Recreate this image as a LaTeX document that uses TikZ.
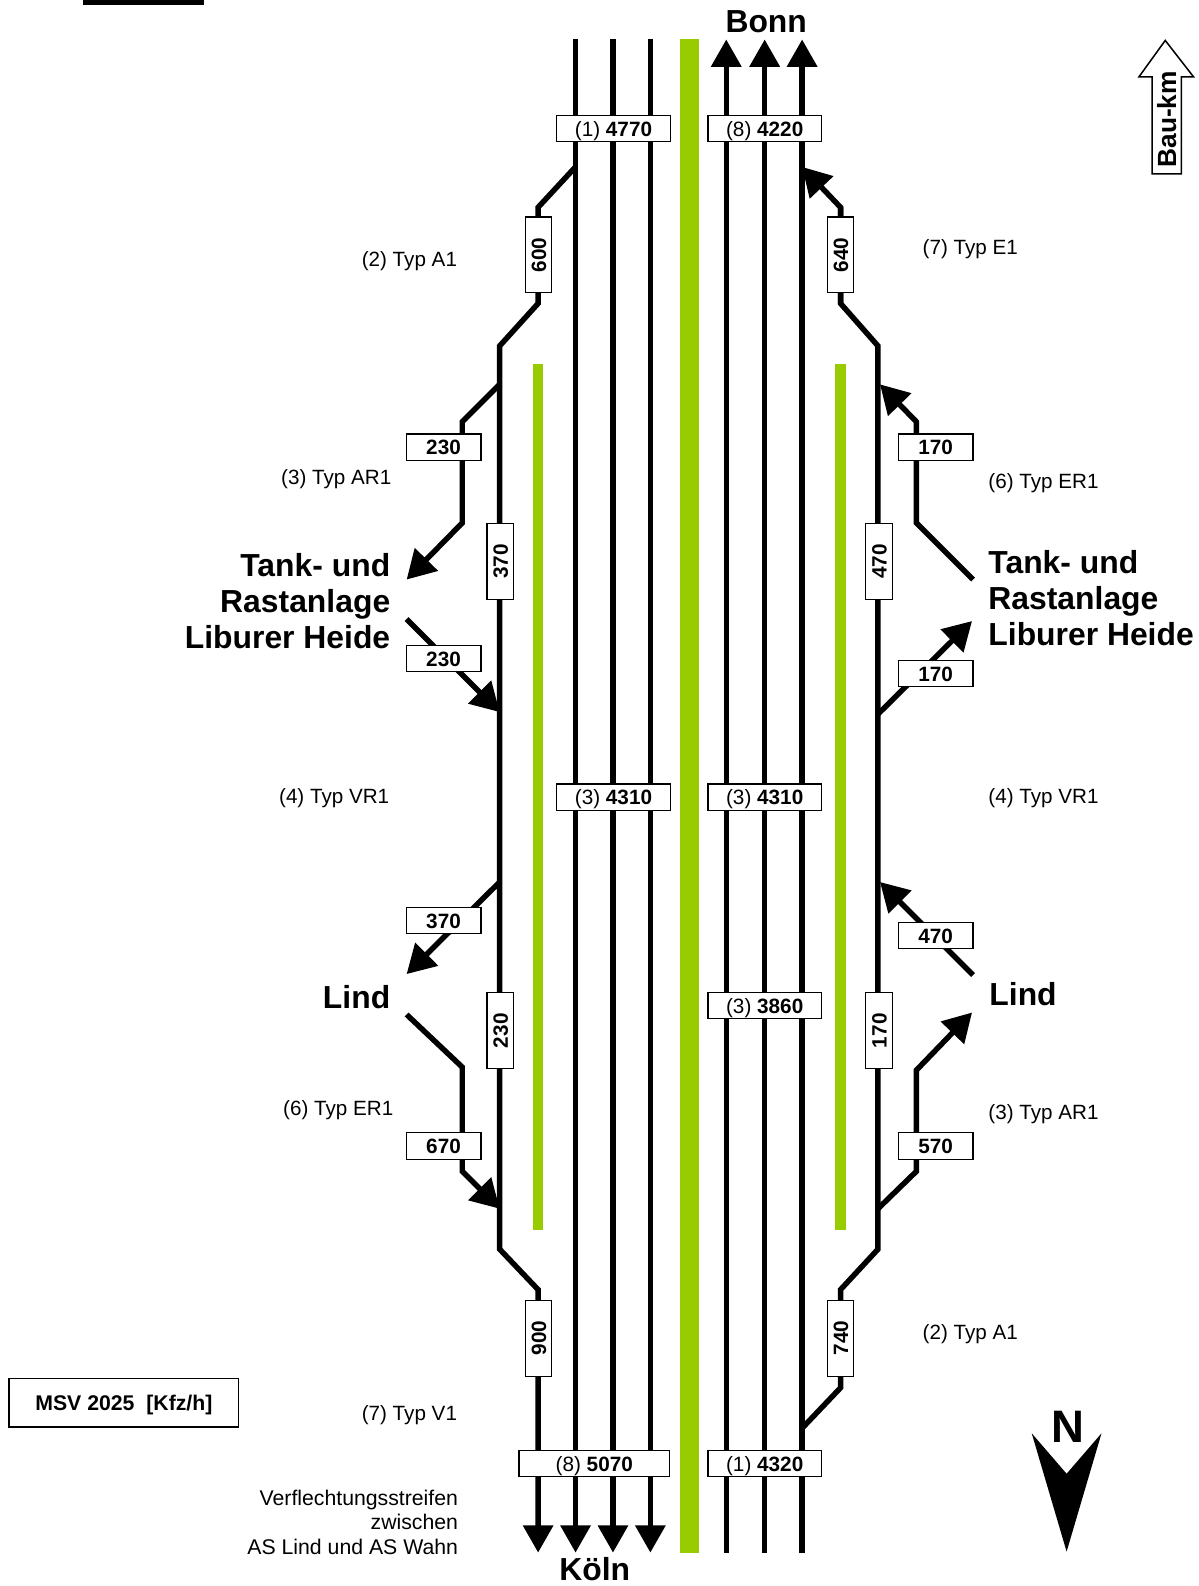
\documentclass[tikz,border=0pt]{standalone}
\usepackage{fontspec}
\setmainfont{Liberation Sans}
\usetikzlibrary{arrows.meta}
\definecolor{stripgreen}{HTML}{99CC00}
\tikzset{
  road/.style={line width=5.4pt,line join=miter,draw=black},
  endtip/.style={road,-{Triangle[length=27pt,width=29pt]}},
  ramptip/.style={road,-{Triangle[length=28pt,width=31pt]}},
  vbox/.style={draw=black,fill=white,line width=1.2pt,inner sep=0pt,minimum height=26pt,text height=15pt,text depth=0pt,font=\fontsize{20.5}{24}\selectfont},
  wide/.style={vbox,minimum width=112pt},
  ramp/.style={vbox,minimum width=74pt,font=\fontsize{20.5}{24}\selectfont\bfseries},
  upright/.style={vbox,minimum width=75pt,rotate=90,font=\fontsize{20.5}{24}\selectfont\bfseries},
  typel/.style={font=\fontsize{20.4}{24}\selectfont,inner sep=0pt,anchor=base east},
  typer/.style={font=\fontsize{20.4}{24}\selectfont,inner sep=0pt,anchor=base west},
  bigl/.style={font=\fontsize{31.5}{35.5}\selectfont\bfseries,inner sep=0pt,align=right,anchor=east},
  bigr/.style={font=\fontsize{31.5}{35.5}\selectfont\bfseries,inner sep=0pt,align=left,anchor=west},
  city/.style={font=\fontsize{31.5}{35}\selectfont\bfseries,inner sep=0pt},
}
\begin{document}
\begin{tikzpicture}[x=1pt,y=-1pt]
\useasboundingbox (0,0) rectangle (1185,1568);
\fill[white] (0,0) rectangle (1185,1568);
\fill[black] (82,0) rectangle (202,5);
% green strips
\fill[stripgreen] (672,39) rectangle (691,1535);
\fill[stripgreen] (527,360) rectangle (537,1216);
\fill[stripgreen] (826,360) rectangle (836,1216);
% end points of the through carriageways
\foreach \n/\x in {a/569,b/606,c/643,d/718,e/756,f/793}{
  \coordinate (\n t) at (\x,39);
  \coordinate (\n b) at (\x,1535);
}
\coordinate (lb) at (532,1535);
\draw[endtip] (at) -- (ab);
\draw[endtip] (bt) -- (bb);
\draw[endtip] (ct) -- (cb);
\draw[endtip] (db) -- (dt);
\draw[endtip] (eb) -- (et);
\draw[endtip] (fb) -- (ft);
% left collector
\coordinate (L1) at (569,165);
\coordinate (L2) at (532,205);
\coordinate (L3) at (532,300);
\coordinate (L4) at (494,342);
\coordinate (L5) at (494,1235);
\coordinate (L6) at (532,1275);
\draw[endtip] (L1) -- (L2) -- (L3) -- (L4) -- (L5) -- (L6) -- (lb);
% right collector
\coordinate (R1) at (793,165);
\coordinate (R2) at (831,205);
\coordinate (R3) at (831,300);
\coordinate (R4) at (868,342);
\coordinate (R5) at (868,1235);
\coordinate (R6) at (831,1275);
\coordinate (R7) at (831,1372);
\coordinate (R8) at (793,1412);
\draw[ramptip] (R3) -- (R2) -- (R1);
\draw[road] (R2) -- (R3) -- (R4) -- (R5) -- (R6) -- (R7) -- (R8);
% left ramps
\coordinate (LA1) at (494,380);
\coordinate (LA2) at (457,417);
\coordinate (LA3) at (457,517);
\coordinate (LA4) at (402,573);
\draw[ramptip] (LA1) -- (LA2) -- (LA3) -- (LA4);
\coordinate (LB1) at (402,612);
\coordinate (LB2) at (494,704);
\draw[ramptip] (LB1) -- (LB2);
\coordinate (LC1) at (494,872);
\coordinate (LC2) at (402,963);
\draw[ramptip] (LC1) -- (LC2);
\coordinate (LD1) at (402,1003);
\coordinate (LD2) at (457,1055);
\coordinate (LD3) at (457,1158);
\coordinate (LD4) at (494,1195);
\draw[ramptip] (LD1) -- (LD2) -- (LD3) -- (LD4);
% right ramps
\coordinate (RA1) at (962,573);
\coordinate (RA2) at (906,517);
\coordinate (RA3) at (906,417);
\coordinate (RA4) at (870,380);
\draw[ramptip] (RA1) -- (RA2) -- (RA3) -- (RA4);
\coordinate (RB1) at (868,706);
\coordinate (RB2) at (961,614);
\draw[ramptip] (RB1) -- (RB2);
\coordinate (RC1) at (962,964);
\coordinate (RC2) at (870,872);
\draw[ramptip] (RC1) -- (RC2);
\coordinate (RD1) at (868,1195);
\coordinate (RD2) at (906,1158);
\coordinate (RD3) at (906,1058);
\coordinate (RD4) at (961,1001);
\draw[ramptip] (RD1) -- (RD2) -- (RD3) -- (RD4);
% main line boxes
\node[wide] (m1) at (606.5,127) {(1) \textbf{4770}};
\node[wide] (m2) at (756,127) {(8) \textbf{4220}};
\node[wide] (m3) at (606.5,788) {(3) \textbf{4310}};
\node[wide] (m4) at (756,788) {(3) \textbf{4310}};
\node[wide] (m5) at (756,994) {(3) \textbf{3860}};
\node[wide] (m6) at (756,1447) {(1) \textbf{4320}};
\node[vbox,minimum width=149pt] (m7) at (587.5,1447) {(8) \textbf{5070}};
% ramp boxes
\node[ramp] (r1) at (438.5,442) {230};
\node[ramp] (r2) at (438.5,651) {230};
\node[ramp] (r3) at (438.5,910) {370};
\node[ramp] (r4) at (438.5,1133) {670};
\node[ramp] (r5) at (925,442) {170};
\node[ramp] (r6) at (925,666) {170};
\node[ramp] (r7) at (925,925) {470};
\node[ramp] (r8) at (925,1133) {570};
% upright boxes
\node[upright] (u1) at (532.5,252) {600};
\node[upright] (u2) at (494.5,555) {370};
\node[upright] (u3) at (494.5,1019) {230};
\node[upright] (u4) at (532.5,1323) {900};
\node[upright] (u5) at (831,252) {640};
\node[upright] (u6) at (869,555) {470};
\node[upright] (u7) at (869,1019) {170};
\node[upright] (u8) at (831,1323) {740};
% type labels
\node[typel] (t1) at (452,263) {(2) Typ A1};
\node[typer] (t2) at (912,252) {(7) Typ E1};
\node[typel] (t3) at (387,479) {(3) Typ AR1};
\node[typer] (t4) at (977,483) {(6) Typ ER1};
\node[typel] (t5) at (385,794) {(4) Typ VR1};
\node[typer] (t6) at (977,794) {(4) Typ VR1};
\node[typel] (t7) at (389,1103) {(6) Typ ER1};
\node[typer] (t8) at (977,1107) {(3) Typ AR1};
\node[typer] (t9) at (912,1324) {(2) Typ A1};
\node[typel] (t10) at (452,1404) {(7) Typ V1};
\node[font=\fontsize{21}{24.5}\selectfont,inner sep=0pt,align=right,anchor=east] (vs) at (453,1505) {Verflechtungsstreifen\\zwischen\\AS Lind und AS Wahn};
% places
\node[bigl] (p1) at (386,594) {Tank- und\\Rastanlage\\Liburer Heide};
\node[bigr] (p2) at (977,591) {Tank- und\\Rastanlage\\Liburer Heide};
\node[bigl] (p3) at (386,986) {Lind};
\node[bigr] (p4) at (978,983) {Lind};
\node[city] (bonn) at (757.5,21) {Bonn};
\node[city] (koeln) at (588,1551) {Köln};
% legend
\node[draw=black,fill=white,line width=1.5pt,minimum width=227pt,minimum height=48pt,inner sep=0pt,text height=15pt,text depth=0pt,font=\fontsize{21}{24}\selectfont\bfseries] (msv) at (122.5,1387) {MSV 2025\ \ [Kfz/h]};
% Bau-km arrow
\draw[fill=white,line width=1.5pt,line join=miter] (1152,40) -- (1180,76) -- (1168,76) -- (1168,172) -- (1139,172) -- (1139,76) -- (1126,76) -- cycle;
\node[rotate=90,inner sep=0pt,font=\fontsize{26}{30}\selectfont\bfseries] (bau) at (1153.5,118) {Bau-km};
% north arrow
\fill[black] (1020,1417) -- (1054.5,1457) -- (1089,1417) -- (1054.5,1534) -- cycle;
\node[inner sep=0pt,anchor=base,font=\fontsize{45}{50}\selectfont\bfseries] (north) at (1055.5,1426) {N};
\end{tikzpicture}
\end{document}
